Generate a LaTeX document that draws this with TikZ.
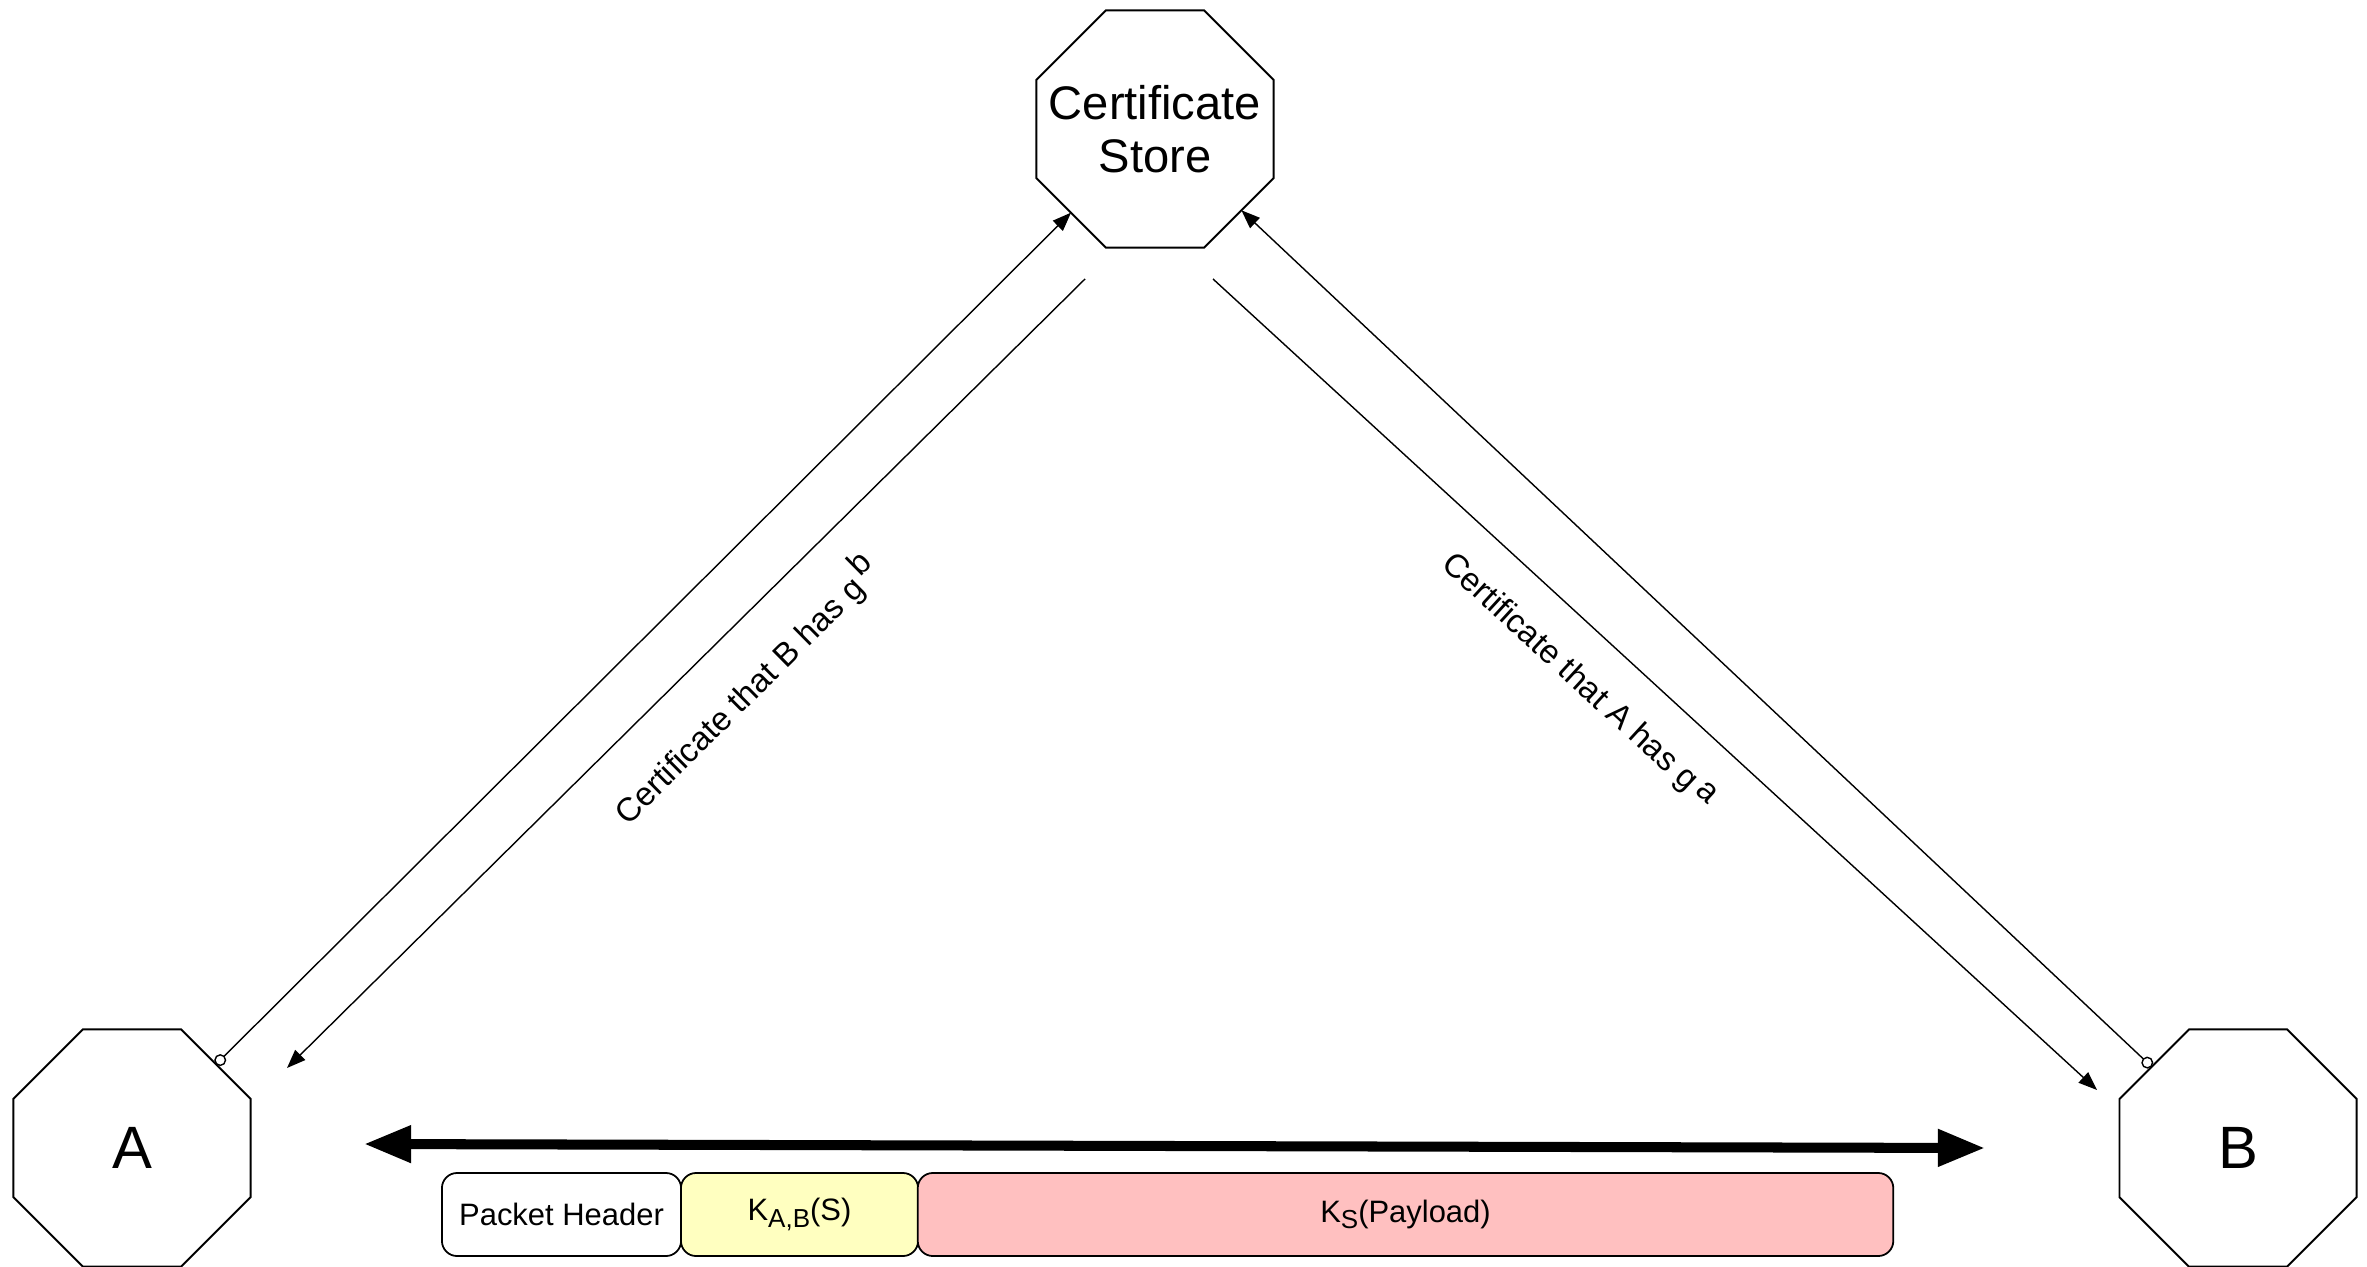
\documentclass[tikz,border=0pt]{standalone}
\usepackage{fontspec}
\setmainfont{Liberation Sans}
\usetikzlibrary{shapes.geometric,arrows.meta}
\definecolor{kyellow}{HTML}{FFFFC0}
\definecolor{kpink}{HTML}{FFC0C0}
\newcommand\pksub[1]{\raisebox{-0.4ex}{\fontsize{7.4}{8}\selectfont #1}}
\tikzset{
 octo/.style={draw, line width=0.55pt, regular polygon, regular polygon sides=8, minimum size=2.565cm, inner sep=0pt, outer sep=0pt, align=center},
 conn/.style={line width=0.4pt, -{Triangle[length=5.3pt,width=4pt]}},
 circconn/.style={line width=0.4pt, {Circle[open,length=3.4pt]}-{Triangle[length=5.3pt,width=4pt]}},
 bigarrow/.style={line width=2.85pt, {Triangle[length=13.4pt,width=10pt]}-{Triangle[length=13.4pt,width=10pt]}},
 pbox/.style={draw, line width=0.5pt, rounded corners=4.3pt, minimum height=0.83cm, inner sep=0pt, outer sep=0pt, font=\fontsize{8.8}{10}\selectfont},
 lbl/.style={font=\fontsize{9.4}{11}\selectfont, inner sep=0pt}
}
\begin{document}
\begin{tikzpicture}[x=0.01cm,y=-0.01cm]
\useasboundingbox (0,0) rectangle (2367,1267);
% octagon nodes
\node[octo, label={[align=center, inner sep=0pt, font=\fontsize{13.4}{15.1}\selectfont]center:Certificate\\Store}] (cs) at (1155,129) {};
\node[octo, font=\fontsize{17}{20}\selectfont] (A) at (132,1148) {A};
\node[octo, font=\fontsize{17}{20}\selectfont] (B) at (2238,1148) {B};
% free ends
\coordinate (p1) at (1085,279);
\coordinate (p2) at (287,1068);
\coordinate (p3) at (1213,279);
\coordinate (p4) at (2097,1090);
\coordinate (t1) at (364,1144);
\coordinate (t2) at (1985,1148);
% connectors
\draw[circconn] (A) -- (cs);
\draw[circconn] (B) -- (cs);
\draw[conn] (p1) -- (p2);
\draw[conn] (p3) -- (p4);
\draw[bigarrow] (t1) -- (t2);
% labels
\node[lbl, rotate=44.7] (l1) at (745,689) {Certificate that B has g\,\raisebox{0.42em}{b}};
\node[lbl, rotate=-42.5] (l2) at (1578,681) {Certificate that A has g\,\raisebox{0.15em}{a}};
% packet
\node[pbox, fill=white, minimum width=2.39cm] (ph) at (561.5,1214.5) {Packet Header};
\node[pbox, fill=kyellow, minimum width=2.37cm] (kab) at (799.5,1214.5) {K\pksub{A,B}(S)};
\node[pbox, fill=kpink, minimum width=9.75cm] (ks) at (1405.5,1214.5) {K\pksub{S}(Payload)};
\end{tikzpicture}
\end{document}
